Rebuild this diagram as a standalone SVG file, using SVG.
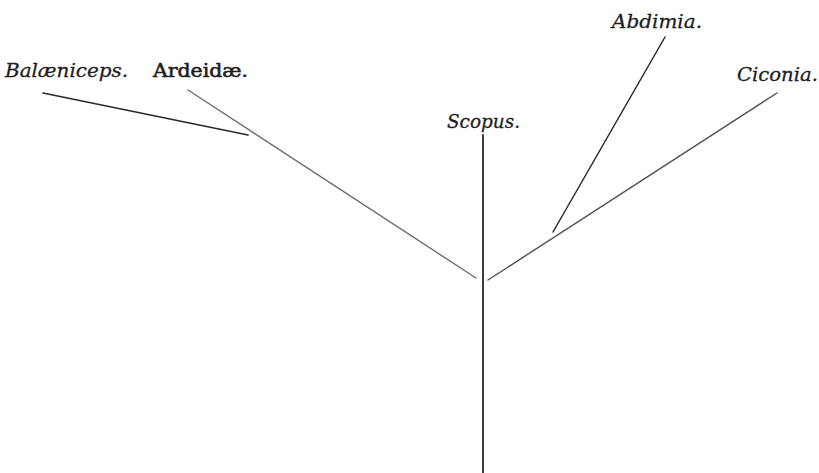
<svg xmlns="http://www.w3.org/2000/svg" width="819" height="473" viewBox="0 0 819 473">
<style>
.lbl{font-family:"DejaVu Serif","Liberation Serif",serif;font-size:19px;fill:#1e1e1e;stroke:#1e1e1e;stroke-width:0.3}
.it{font-style:italic}
.bd{font-weight:normal;stroke-width:0.6}
.ln{fill:none;stroke-linecap:round}
</style>
<rect width="819" height="473" fill="#ffffff"/>
<g id="connectors">
<line class="ln" x1="43" y1="93" x2="248" y2="135" stroke="#2a2a2a" stroke-width="1.7"/>
<line class="ln" x1="188" y1="90" x2="476" y2="278" stroke="#6e6e6e" stroke-width="1.4"/>
<line class="ln" x1="483" y1="135" x2="483" y2="473" stroke="#2a2a2a" stroke-width="1.8"/>
<line class="ln" x1="488" y1="280" x2="777" y2="93" stroke="#505050" stroke-width="1.4"/>
<line class="ln" x1="665" y1="37" x2="553" y2="232" stroke="#2a2a2a" stroke-width="1.5"/>
</g>
<g id="balaeniceps"><text class="lbl it" x="5" y="77" textLength="123" lengthAdjust="spacingAndGlyphs">Balæniceps.</text></g>
<g id="ardeidae"><text class="lbl bd" x="153" y="77" textLength="95" lengthAdjust="spacingAndGlyphs">Ardeidæ.</text></g>
<g id="scopus"><text class="lbl it" x="447" y="128" textLength="73" lengthAdjust="spacingAndGlyphs">Scopus.</text></g>
<g id="abdimia"><text class="lbl it" x="612" y="28" textLength="90" lengthAdjust="spacingAndGlyphs">Abdimia.</text></g>
<g id="ciconia"><text class="lbl it" x="737" y="81" textLength="81" lengthAdjust="spacingAndGlyphs">Ciconia.</text></g>
</svg>
